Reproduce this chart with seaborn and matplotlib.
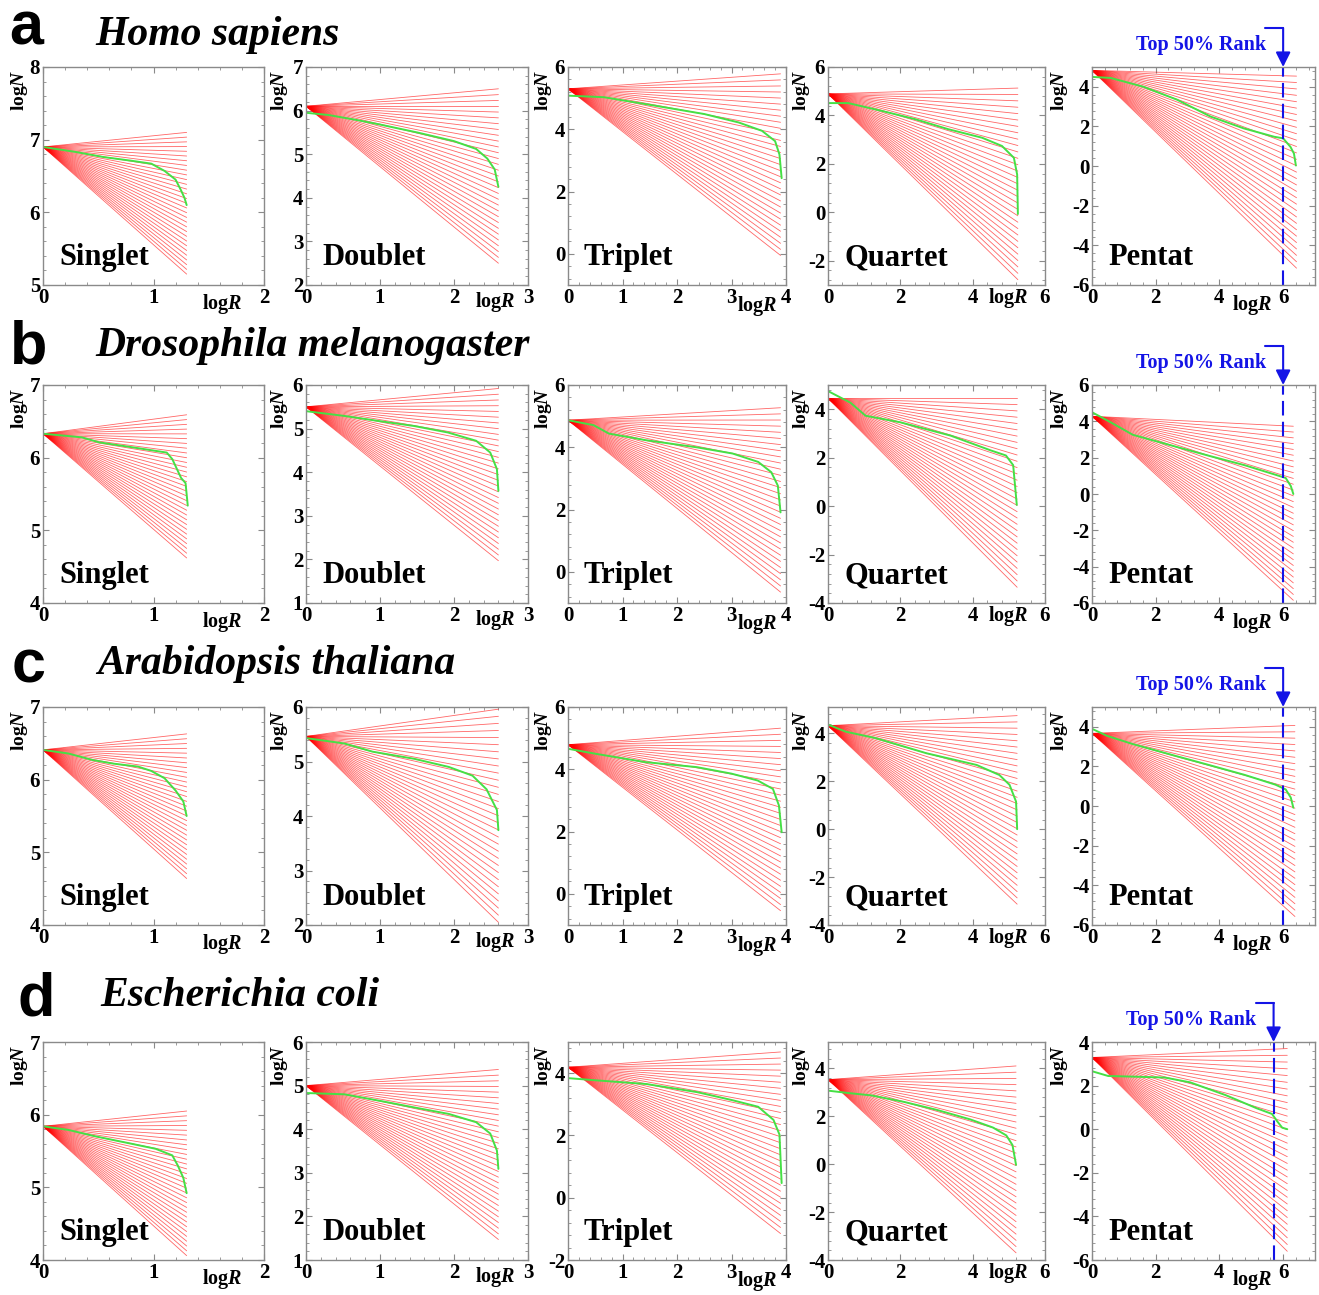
import numpy as np
import pandas as pd
import matplotlib
matplotlib.use('Agg')
import matplotlib.pyplot as plt
import seaborn as sns
from matplotlib.ticker import MultipleLocator, AutoMinorLocator

sns.set_style('white')
plt.rcParams['font.family'] = ['Liberation Serif', 'DejaVu Serif']
plt.rcParams['font.weight'] = 'bold'
plt.rcParams['text.color'] = 'black'
plt.rcParams['axes.labelcolor'] = 'black'
plt.rcParams['xtick.labelcolor'] = 'black'
plt.rcParams['ytick.labelcolor'] = 'black'
plt.rcParams['mathtext.fontset'] = 'custom'
plt.rcParams['mathtext.rm'] = 'Liberation Serif:bold'
plt.rcParams['mathtext.it'] = 'Liberation Serif:bold:italic'
plt.rcParams['mathtext.bf'] = 'Liberation Serif:bold'
plt.rcParams['mathtext.sf'] = 'Liberation Sans:bold'

# ---------------- data ----------------
species = ['Homo sapiens', 'Drosophila melanogaster', 'Arabidopsis thaliana', 'Escherichia coli']
row_letters = ['a', 'b', 'c', 'd']
panel_names = ['Singlet', 'Doublet', 'Triplet', 'Quartet', 'Pentat']

x_max = [2, 3, 4, 6, 7]
x_step = [1, 1, 1, 2, 2]
y_step = [1, 1, 2, 2, 2]
y_limits = [
    [(5, 8), (2, 7), (-1, 6), (-3, 6), (-6, 5)],
    [(4, 7), (1, 6), (-1, 6), (-4, 5), (-6, 6)],
    [(4, 7), (2, 6), (-1, 6), (-4, 5.1), (-6, 5)],
    [(4, 7), (1, 6), (-2, 5), (-4, 5.1), (-6, 4)],
]

# fan of reference lines: common origin at logR = 0, end at logR = xend
fan_origin = [[6.90, 6.10, 5.30, 4.89, 4.83],
              [6.33, 5.50, 4.87, 4.45, 4.28],
              [6.41, 5.46, 4.79, 4.32, 3.67],
              [5.84, 5.00, 4.19, 3.53, 3.29]]
fan_xend = [[1.3, 2.6, 3.9, 5.25, 6.42],
            [1.3, 2.6, 3.9, 5.23, 6.32],
            [1.3, 2.6, 3.9, 5.23, 6.37],
            [1.3, 2.6, 3.9, 5.20, 6.13]]
fan_top = [[7.10, 6.50, 5.78, 5.13, 4.54],
           [6.59, 5.92, 5.27, 4.45, 3.73],
           [6.63, 5.96, 5.32, 4.74, 4.07],
           [6.05, 5.37, 4.68, 4.10, 3.70]]
fan_bottom = [[5.15, 2.50, -0.05, -2.78, -5.15],
              [4.62, 1.97, -0.65, -3.35, -5.85],
              [4.64, 2.05, -0.54, -3.13, -5.57],
              [4.06, 1.47, -1.15, -3.70, -5.60]]
n_fan_lines = 31

# green rank curves (x = logR, y = logN)
green_x = [
    [[0, 0.3, 0.55, 0.8, 0.98, 1.1, 1.2, 1.25, 1.28, 1.3],
     [0, 0.3, 0.7, 1.0, 1.5, 2.0, 2.3, 2.45, 2.55, 2.6],
     [0, 0.66, 1.59, 2.5, 3.13, 3.56, 3.8, 3.88, 3.92],
     [0, 0.56, 1.48, 2.4, 3.33, 4.26, 4.81, 5.14, 5.23, 5.25],
     [0, 0.58, 1.62, 2.67, 3.72, 4.77, 5.72, 6.0, 6.23, 6.34, 6.4]],
    [[0, 0.35, 0.51, 0.82, 1.12, 1.17, 1.25, 1.29, 1.31],
     [0, 0.52, 1.0, 1.46, 1.92, 2.3, 2.49, 2.58, 2.6],
     [0, 0.47, 0.75, 1.42, 2.36, 3.02, 3.49, 3.73, 3.85, 3.9],
     [0, 0.62, 1.04, 2.0, 3.39, 4.5, 4.92, 5.12, 5.22],
     [0, 0.48, 1.28, 2.56, 3.68, 4.8, 5.76, 6.08, 6.24, 6.32]],
    [[0, 0.23, 0.45, 0.64, 0.86, 0.98, 1.1, 1.2, 1.27, 1.3],
     [0, 0.52, 0.9, 1.46, 1.93, 2.25, 2.44, 2.58, 2.6],
     [0, 0.5, 1.42, 2.36, 3.0, 3.48, 3.76, 3.87, 3.92],
     [0, 0.49, 1.32, 2.72, 4.11, 4.74, 5.02, 5.2, 5.23],
     [0, 0.48, 1.28, 2.56, 3.68, 4.8, 5.76, 6.08, 6.24, 6.32]],
    [[0, 0.23, 0.48, 0.8, 1.02, 1.17, 1.22, 1.27, 1.3],
     [0, 0.52, 1.0, 1.46, 1.93, 2.3, 2.49, 2.58, 2.6],
     [0, 0.51, 1.44, 2.37, 3.02, 3.49, 3.77, 3.88, 3.92],
     [0, 0.56, 1.2, 2.1, 3.0, 3.93, 4.56, 4.93, 5.1, 5.2],
     [0, 0.51, 1.32, 2.28, 3.08, 4.2, 5.17, 5.65, 5.81, 5.97, 6.13]],
]
green_y = [
    [[6.9, 6.83, 6.76, 6.71, 6.67, 6.57, 6.45, 6.3, 6.2, 6.1],
     [5.95, 5.9, 5.78, 5.68, 5.5, 5.3, 5.12, 4.9, 4.65, 4.25],
     [5.08, 5.03, 4.76, 4.49, 4.22, 3.95, 3.62, 3.19, 2.43],
     [4.51, 4.51, 4.19, 3.85, 3.43, 3.08, 2.74, 2.25, 1.56, -0.07],
     [4.5, 4.45, 4.0, 3.35, 2.5, 1.9, 1.48, 1.4, 0.97, 0.63, 0.03]],
    [[6.33, 6.28, 6.21, 6.14, 6.07, 5.98, 5.72, 5.65, 5.34],
     [5.4, 5.29, 5.17, 5.06, 4.91, 4.72, 4.45, 4.07, 3.57],
     [4.87, 4.71, 4.44, 4.23, 4.0, 3.8, 3.53, 3.2, 2.77, 1.91],
     [4.75, 4.27, 3.73, 3.46, 2.91, 2.3, 2.09, 1.69, 0.05],
     [4.5, 4.05, 3.26, 2.64, 2.1, 1.58, 1.06, 0.88, 0.44, 0.0]],
    [[6.41, 6.36, 6.27, 6.22, 6.18, 6.12, 6.02, 5.85, 5.7, 5.5],
     [5.43, 5.33, 5.18, 5.05, 4.9, 4.74, 4.49, 4.11, 3.74],
     [4.66, 4.5, 4.23, 4.07, 3.86, 3.64, 3.37, 2.84, 1.98],
     [4.37, 4.07, 3.8, 3.17, 2.68, 2.26, 1.85, 1.15, 0.0],
     [3.9, 3.54, 3.13, 2.56, 2.07, 1.57, 1.08, 0.84, 0.43, -0.08]],
    [[5.84, 5.79, 5.7, 5.6, 5.53, 5.44, 5.3, 5.13, 4.92],
     [4.83, 4.8, 4.65, 4.5, 4.35, 4.16, 3.9, 3.51, 3.09],
     [3.84, 3.77, 3.65, 3.39, 3.13, 2.92, 2.5, 2.03, 0.47],
     [3.07, 2.97, 2.87, 2.6, 2.27, 1.87, 1.53, 1.2, 0.8, -0.03],
     [2.66, 2.44, 2.41, 2.37, 2.15, 1.56, 0.96, 0.7, 0.37, 0.07, 0.0]],
]
rank_cut = [6.0, 6.0, 6.0, 5.7]
rank_label = 'Top 50% Rank'

# ---------------- layout (pixels) ----------------
W, H = 1319, 1295
col_left = [43, 306, 568, 828, 1092]
col_width = [221, 222, 218, 217, 223]
row_top = [67, 385, 707, 1042]
ax_h = 218
letter_pos = [(9, 44), (9, 364), (11, 682), (17, 1016)]   # baseline
species_pos = [(95, 45), (95, 356), (97, 674), (100, 1006)]
logN_off = [-23, -26, -25, -26, -33]
logR_x = [0.81, 0.85, 0.87, 0.83, 0.72]
logR_y = [-0.085, -0.08, -0.095, -0.06, -0.09]

RED = '#ff0000'
GREEN = '#45e045'
BLUE = '#1414e6'
FRAME = '#8a8a8a'

fig = plt.figure(figsize=(W / 100, H / 100), dpi=100)

def fx(px):
    return px / W

def fy(py):
    return 1 - py / H

for r in range(4):
    lx, ly = letter_pos[r]
    fig.text(fx(lx), fy(ly), r'$\mathsf{' + row_letters[r] + '}$',
             fontsize=44, ha='left', va='baseline', color='black')
    sx, sy = species_pos[r]
    fig.text(fx(sx), fy(sy), species[r], family=['Liberation Serif', 'DejaVu Serif'],
             weight='bold', style='italic', fontsize=30, ha='left', va='baseline',
             color='black')
    for c in range(5):
        left = col_left[c]
        w = col_width[c]
        top = row_top[r]
        ax = fig.add_axes([fx(left), fy(top + ax_h), w / W, ax_h / H])

        # fan lines
        y0 = fan_origin[r][c]
        xe = fan_xend[r][c]
        ends = np.linspace(fan_top[r][c], fan_bottom[r][c], n_fan_lines)
        rows = []
        for i, ye in enumerate(ends):
            rows.append({'line': i, 'x': 0.0, 'y': y0})
            rows.append({'line': i, 'x': xe, 'y': ye})
        fan_df = pd.DataFrame(rows)
        sns.lineplot(data=fan_df, x='x', y='y', units='line', estimator=None,
                     color=RED, lw=0.6, alpha=0.6, ax=ax, legend=False)
        # green curve
        sns.lineplot(x=green_x[r][c], y=green_y[r][c], sort=False, estimator=None,
                     color=GREEN, lw=1.4, ax=ax, legend=False)

        ax.set_xlim(0, x_max[c])
        ax.set_ylim(*y_limits[r][c])
        ax.xaxis.set_major_locator(MultipleLocator(x_step[c]))
        ax.yaxis.set_major_locator(MultipleLocator(y_step[c]))
        ax.xaxis.set_minor_locator(AutoMinorLocator(5))
        ax.yaxis.set_minor_locator(AutoMinorLocator(5))
        ax.tick_params(which='both', direction='in', top=True, right=True,
                       bottom=True, left=True, color=FRAME, labelsize=15, pad=2,
                       labelcolor='black')
        ax.tick_params(which='major', length=4, width=0.8)
        ax.tick_params(which='minor', length=2, width=0.6)
        ax.set_xticklabels([f'{int(v)}' for v in ax.get_xticks()])
        ax.set_yticklabels([f'{int(v)}' for v in ax.get_yticks()])
        for sp in ax.spines.values():
            sp.set_color(FRAME)
            sp.set_linewidth(1.0)
        ax.set_xlabel('')
        ax.set_ylabel('')

        # axis labels
        ax.text(logN_off[c] / w, 0.99, r'$\mathrm{log}\mathit{N}$', rotation=90,
                transform=ax.transAxes, ha='center', va='top', fontsize=14,
                color='black')
        ax.text(logR_x[c], logR_y[c], r'$\mathrm{log}\mathit{R}$',
                transform=ax.transAxes, ha='center', va='center', fontsize=14.5,
                color='black')
        # panel name
        ax.text(16 / w, 20 / ax_h, panel_names[c], transform=ax.transAxes,
                ha='left', va='baseline', fontsize=22, weight='bold', color='black')

        if c == 4:
            cut = rank_cut[r]
            ax.axvline(cut, color=BLUE, lw=1.5, ls=(0, (7, 3)))
            xf = cut / x_max[c]
            hook_y = 1 + 39 / ax_h
            ax.plot([xf - 18 / w, xf], [hook_y, hook_y], color=BLUE, lw=1.5,
                    transform=ax.transAxes, clip_on=False)
            ax.annotate('', xy=(xf, 1.0), xytext=(xf, hook_y),
                        xycoords='axes fraction', textcoords='axes fraction',
                        arrowprops=dict(arrowstyle='-|>', color=BLUE, lw=1.5,
                                        mutation_scale=22, shrinkA=0, shrinkB=0))
            ax.text(xf - 17 / w, 1 + 22 / ax_h, rank_label, color=BLUE,
                    transform=ax.transAxes, ha='right', va='center',
                    fontsize=14.5, weight='bold')

fig.savefig('out.png', dpi=100)
